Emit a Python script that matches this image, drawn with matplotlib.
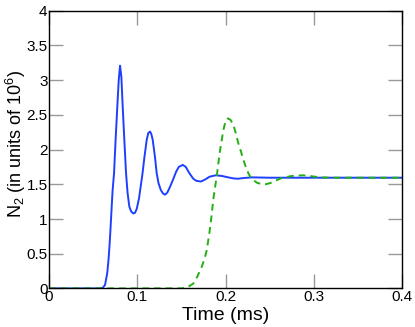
import matplotlib
matplotlib.use("Agg")
import matplotlib.pyplot as plt

# blue solid curve (time in ms, N2 in units of 1e6)
t_blue = [0, 0.058, 0.061, 0.0635, 0.066, 0.0675, 0.069, 0.0705, 0.072, 0.0737,
          0.0755, 0.0774, 0.079, 0.0805, 0.082, 0.0835, 0.0855, 0.0873, 0.089, 0.091,
          0.093, 0.0955, 0.0975, 0.0995, 0.102, 0.104, 0.106, 0.108, 0.1107, 0.1125,
          0.1145, 0.116, 0.1175, 0.120, 0.122, 0.124, 0.1266, 0.129, 0.1314, 0.134,
          0.137, 0.1409, 0.144, 0.147, 0.1515, 0.155, 0.159, 0.1635, 0.167, 0.172,
          0.177, 0.182, 0.189, 0.196, 0.203, 0.209, 0.214, 0.22, 0.23, 0.25, 0.4]
n_blue = [0, 0, 0.01, 0.05, 0.22, 0.42, 0.70, 1.05, 1.4, 1.66,
          2.15, 2.62, 3.0, 3.21, 3.05, 2.62, 2.1, 1.66, 1.38, 1.18,
          1.11, 1.08, 1.09, 1.15, 1.3, 1.48, 1.66, 1.88, 2.14, 2.24,
          2.26, 2.22, 2.14, 1.9, 1.66, 1.52, 1.42, 1.37, 1.35, 1.38,
          1.46, 1.58, 1.68, 1.75, 1.78, 1.75, 1.66, 1.58, 1.55, 1.54,
          1.57, 1.61, 1.63, 1.62, 1.6, 1.585, 1.58, 1.59, 1.6, 1.595, 1.595]

# green dashed curve
t_green = [0, 0.150, 0.156, 0.1635, 0.168, 0.173, 0.176, 0.1787, 0.1817, 0.184,
           0.186, 0.188, 0.190, 0.192, 0.1938, 0.1975, 0.200, 0.2025, 0.2055, 0.2088,
           0.2115, 0.2145, 0.2175, 0.2202, 0.223, 0.2258, 0.2285, 0.2315, 0.236, 0.2405,
           0.2448, 0.250, 0.254, 0.258, 0.2625, 0.2674, 0.275, 0.288, 0.298, 0.307,
           0.32, 0.4]
n_green = [0, 0, 0.01, 0.07, 0.17, 0.31, 0.42, 0.55, 0.80, 1.03,
           1.27, 1.45, 1.61, 1.82, 1.99, 2.28, 2.41, 2.45, 2.43, 2.36,
           2.24, 2.09, 1.97, 1.85, 1.75, 1.66, 1.6, 1.56, 1.52, 1.505,
           1.50, 1.515, 1.535, 1.56, 1.585, 1.60, 1.62, 1.63, 1.615, 1.6,
           1.595, 1.595]

plt.rcParams['font.family'] = ['Liberation Sans', 'DejaVu Sans']
plt.rcParams['mathtext.default'] = 'regular'

fig = plt.figure(figsize=(4.15, 3.27), dpi=100)
ax = fig.add_axes([0.118, 0.118, 0.851, 0.849])

ax.plot(t_blue, n_blue, color='#1f3fff', lw=1.4)
ax.plot(t_green, n_green, color='#22b014', lw=1.4, ls=(0, (3.5, 2.5)))

ax.set_xlim(0, 0.4)
ax.set_ylim(0, 4)
ax.set_xticks([0, 0.1, 0.2, 0.3, 0.4])
ax.set_xticklabels(['0', '0.1', '0.2', '0.3', '0.4'])
ax.set_yticks([0, 0.5, 1, 1.5, 2, 2.5, 3, 3.5, 4])
ax.set_yticklabels(['0', '0.5', '1', '1.5', '2', '2.5', '3', '3.5', '4'])
ax.tick_params(direction='in', length=10, width=1, color='#999999',
               top=True, right=True, labelsize=11, pad=1)

for s in ax.spines.values():
    s.set_linewidth(1)

ax.set_xlabel('Time (ms)', fontsize=14)
ax.xaxis.set_label_coords(0.5, -0.068)
ax.set_ylabel('N$_2$ (in units of 10$^6$)', fontsize=13)
ax.yaxis.set_label_coords(-0.06, 0.52)

fig.savefig('out.png', dpi=100)
